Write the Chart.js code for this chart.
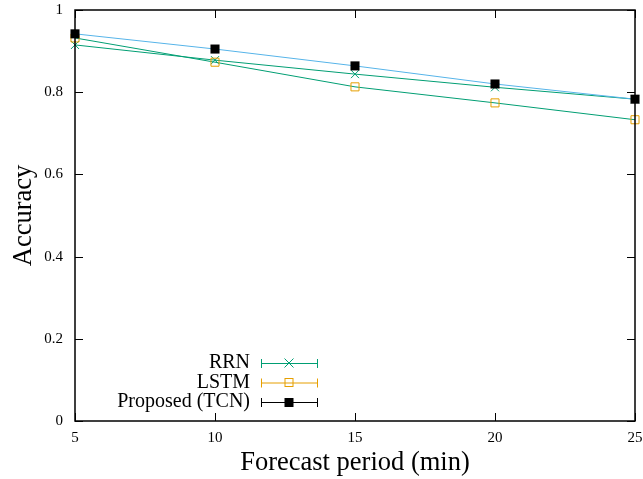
<!DOCTYPE html>
<html>
<head>
<meta charset="utf-8">
<script src="https://cdn.jsdelivr.net/npm/chart.js@4"></script>
<style>
  html, body { margin: 0; padding: 0; background: white; }
  #wrap { width: 643px; height: 479px; }
</style>
</head>
<body>
<div id="wrap"><canvas id="myChart" width="643" height="479"></canvas></div>
<script>
// forecast periods (min)
const periods = [5, 10, 15, 20, 25];
const rrn = [0.915, 0.878, 0.844, 0.812, 0.783];
const lstm = [0.932, 0.873, 0.813, 0.774, 0.733];
const tcn = [0.942, 0.905, 0.864, 0.820, 0.783];
const yTicks = [0, 0.2, 0.4, 0.6, 0.8, 1];

const GREEN = "#009e73";
const ORANGE = "#e69f00";
const BLUE = "#56b4e9";
const FONT = "'Liberation Serif', 'DejaVu Serif', serif";

function pts(values) {
    return periods.map((p, i) => ({ x: p, y: values[i] }));
}

// gnuplot-like frame with inward ticks on all sides + the key
const framePlugin = {
    id: "frame",
    afterDatasetsDraw(chart) {
        const ctx = chart.ctx;
        const a = chart.chartArea;
        const xs = chart.scales.x;
        const ys = chart.scales.y;
        ctx.save();
        ctx.strokeStyle = "#000";
        ctx.lineWidth = 1;
        ctx.beginPath();
        periods.forEach(p => {
            const px = Math.round(xs.getPixelForValue(p)) + 0.5;
            ctx.moveTo(px, a.bottom); ctx.lineTo(px, a.bottom - 8);
            ctx.moveTo(px, a.top); ctx.lineTo(px, a.top + 8);
        });
        yTicks.forEach(v => {
            const py = Math.round(ys.getPixelForValue(v)) + 0.5;
            ctx.moveTo(a.left, py); ctx.lineTo(a.left + 8, py);
            ctx.moveTo(a.right, py); ctx.lineTo(a.right - 8, py);
        });
        ctx.stroke();
        ctx.lineWidth = 1.5;
        ctx.strokeRect(a.left, a.top, a.right - a.left, a.bottom - a.top);

        // key
        const items = [
            { label: "RRN", color: GREEN, style: "crossRot" },
            { label: "LSTM", color: ORANGE, style: "openRect" },
            { label: "Proposed (TCN)", color: "#000", style: "rect" }
        ];
        ctx.font = "20px " + FONT;
        ctx.textAlign = "right";
        ctx.textBaseline = "middle";
        items.forEach((it, i) => {
            const y = 363 + i * 19.5;
            ctx.fillStyle = "#000";
            ctx.fillText(it.label, 250, y);
            ctx.strokeStyle = it.color;
            ctx.fillStyle = it.color;
            ctx.lineWidth = 1;
            ctx.beginPath();
            ctx.moveTo(261, y + 0.5); ctx.lineTo(318, y + 0.5);
            ctx.moveTo(261.5, y - 4); ctx.lineTo(261.5, y + 5);
            ctx.moveTo(317.5, y - 4); ctx.lineTo(317.5, y + 5);
            ctx.stroke();
            const cx = 289;
            if (it.style === "crossRot") {
                ctx.beginPath();
                ctx.moveTo(cx - 4.5, y - 4.5); ctx.lineTo(cx + 4.5, y + 4.5);
                ctx.moveTo(cx - 4.5, y + 4.5); ctx.lineTo(cx + 4.5, y - 4.5);
                ctx.stroke();
            } else if (it.style === "openRect") {
                ctx.strokeRect(cx - 4, y - 4, 8, 8);
            } else {
                ctx.fillRect(cx - 4.5, y - 4, 9, 9);
            }
        });
        ctx.restore();
    }
};

const config = {
    type: "line",
    data: {
        datasets: [
            {
                label: "Proposed (TCN)",
                data: pts(tcn),
                borderColor: BLUE,
                borderWidth: 1,
                pointStyle: "rect",
                pointRadius: 6.4,
                pointBackgroundColor: "#000",
                pointBorderColor: "#000",
                pointBorderWidth: 0,
                clip: false,
                order: 0
            },
            {
                label: "LSTM",
                data: pts(lstm),
                borderColor: GREEN,
                borderWidth: 1,
                pointStyle: "rect",
                pointRadius: 5.7,
                pointBackgroundColor: "rgba(0,0,0,0)",
                pointBorderColor: ORANGE,
                pointBorderWidth: 1,
                clip: false,
                order: 1
            },
            {
                label: "RRN",
                data: pts(rrn),
                borderColor: GREEN,
                borderWidth: 1,
                pointStyle: "crossRot",
                pointRadius: 5.7,
                pointBorderColor: GREEN,
                pointBorderWidth: 1,
                clip: false,
                order: 2
            }
        ]
    },
    options: {
        responsive: false,
        animation: false,
        devicePixelRatio: 1,
        layout: { padding: { top: 10, right: 8, left: 0, bottom: 0 } },
        plugins: {
            legend: { display: false },
            tooltip: { enabled: false }
        },
        scales: {
            x: {
                type: "linear",
                min: 5,
                max: 25,
                afterFit(scale) {
                    scale.height = 58;
                    scale.paddingLeft = 0;
                    scale.paddingRight = 0;
                },
                afterBuildTicks(scale) { scale.ticks = periods.map(v => ({ value: v })); },
                grid: { display: false, drawTicks: false },
                border: { display: false },
                ticks: {
                    padding: 8,
                    color: "#000",
                    font: { family: FONT, size: 15 },
                    maxRotation: 0
                },
                title: {
                    display: true,
                    text: "Forecast period (min)",
                    color: "#000",
                    font: { family: FONT, size: 26.5 },
                    padding: { top: 0, bottom: 0 }
                }
            },
            y: {
                min: 0,
                max: 1,
                afterFit(scale) {
                    scale.width = 75;
                    scale.paddingTop = 0;
                    scale.paddingBottom = 0;
                },
                afterBuildTicks(scale) { scale.ticks = yTicks.map(v => ({ value: v })); },
                grid: { display: false, drawTicks: false },
                border: { display: false },
                ticks: {
                    padding: 12,
                    color: "#000",
                    font: { family: FONT, size: 15 },
                    callback: v => String(v)
                },
                title: {
                    display: true,
                    text: "Accuracy",
                    color: "#000",
                    font: { family: FONT, size: 26.5 },
                    padding: { top: 8, bottom: 0 }
                }
            }
        }
    },
    plugins: [framePlugin]
};

const myChart = new Chart(document.getElementById("myChart"), config);
</script>
</body>
</html>
